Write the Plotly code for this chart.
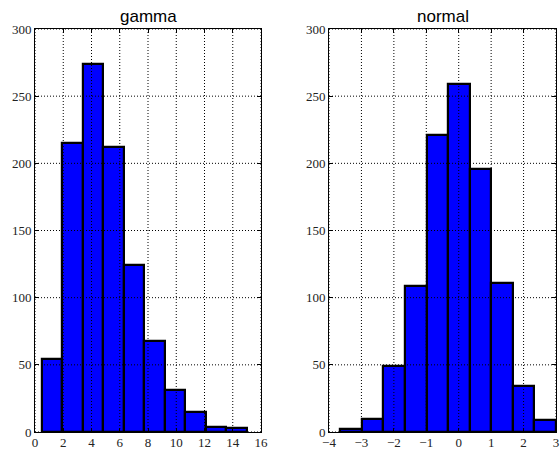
import plotly.graph_objects as go

# Data
gamma_counts = [54, 215, 274, 212, 124, 68, 31, 15, 4, 3]
gamma_start, gamma_width = 0.49, 1.45
normal_counts = [2, 10, 49, 109, 221, 259, 196, 111, 34, 9]
normal_start, normal_width = -3.65, 0.665

gamma_xticks = [0, 2, 4, 6, 8, 10, 12, 14, 16]
normal_xticks = [-4, -3, -2, -1, 0, 1, 2, 3]
yticks = [0, 50, 100, 150, 200, 250, 300]

def centers(start, width, n):
    return [start + width * (i + 0.5) for i in range(n)]

fig = go.Figure()
fig.add_trace(go.Bar(
    x=centers(gamma_start, gamma_width, len(gamma_counts)), y=gamma_counts,
    width=gamma_width, marker=dict(color="#0000ff", line=dict(color="black", width=2.2)),
    xaxis="x", yaxis="y", showlegend=False))
fig.add_trace(go.Bar(
    x=centers(normal_start, normal_width, len(normal_counts)), y=normal_counts,
    width=normal_width, marker=dict(color="#0000ff", line=dict(color="black", width=2.2)),
    xaxis="x2", yaxis="y2", showlegend=False))

tickfont = dict(family="Liberation Serif", size=13, color="#222")
ax_common = dict(showgrid=False, zeroline=False, showline=True, linecolor="black",
                 linewidth=1, mirror="ticks", ticks="inside", ticklen=4,
                 tickcolor="black", tickfont=tickfont, automargin=False)

def lab(v):
    return str(v).replace("-", "\u2212")

ydom = [(451-432)/451, (451-29)/451]
fig.update_layout(
    width=560, height=451, margin=dict(l=0, r=0, t=0, b=0),
    paper_bgcolor="white", plot_bgcolor="white", bargap=0,
    xaxis=dict(domain=[35/560, 261/560], range=[0, 16], tickvals=gamma_xticks,
               ticktext=[lab(v) for v in gamma_xticks], anchor="y",
               ticklabelstandoff=-2, **ax_common),
    yaxis=dict(domain=ydom, range=[0, 300], tickvals=yticks, anchor="x", **ax_common),
    xaxis2=dict(domain=[329/560, 556/560], range=[-4, 3], tickvals=normal_xticks,
                ticktext=[lab(v) for v in normal_xticks], anchor="y2",
                ticklabelstandoff=-2, **ax_common),
    yaxis2=dict(domain=ydom, range=[0, 300], tickvals=yticks, anchor="x2", **ax_common),
)

# dotted grid above the bars
grid = dict(color="black", width=1, dash="1px,2px")
for xa, ya, xt in [("x", "y", gamma_xticks), ("x2", "y2", normal_xticks)]:
    for v in xt:
        fig.add_shape(type="line", xref=xa, yref=ya + " domain", x0=v, x1=v, y0=0, y1=1,
                      line=grid, layer="above")
    for v in yticks:
        fig.add_shape(type="line", xref=xa + " domain", yref=ya, x0=0, x1=1, y0=v, y1=v,
                      line=grid, layer="above")

for xa, title in [("x", "gamma"), ("x2", "normal")]:
    ya = "y" if xa == "x" else "y2"
    fig.add_annotation(text=title, xref=xa + " domain", yref=ya + " domain", x=0.5, y=1,
                       xanchor="center", yanchor="bottom", yshift=1, showarrow=False,
                       font=dict(family="Liberation Sans", size=17, color="black"))

fig.write_html("out.html")
